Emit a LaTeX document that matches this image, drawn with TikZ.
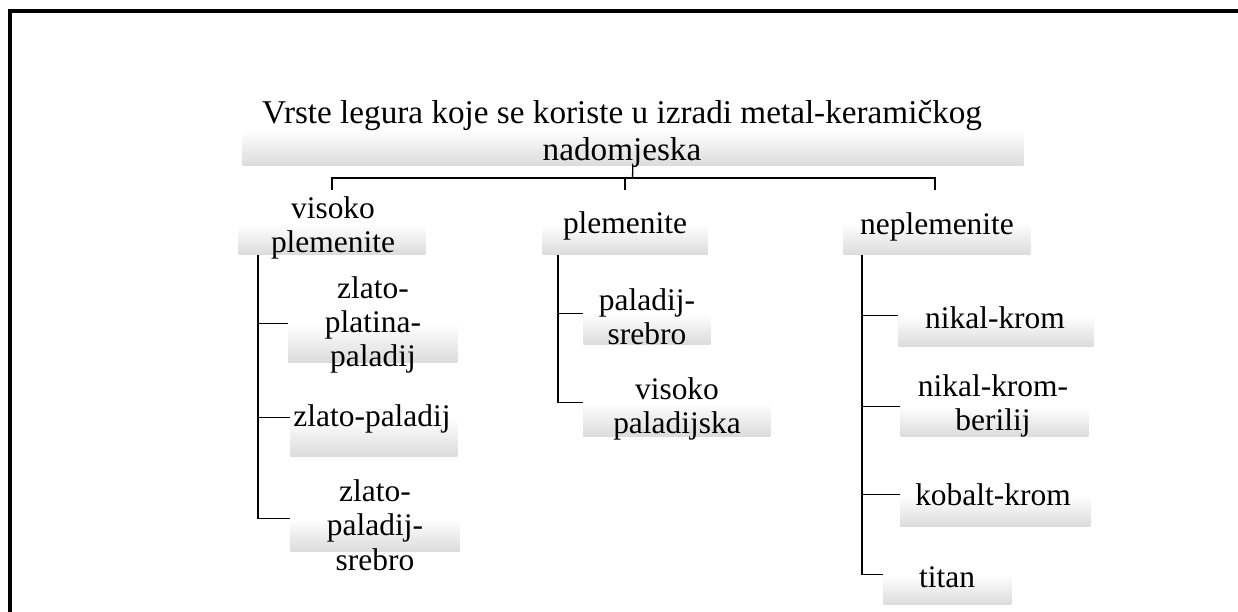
\documentclass[tikz,border=0pt]{standalone}
\usepackage{fontspec}
\setmainfont{Liberation Serif}

\begin{document}
\begin{tikzpicture}[x=0.02cm,y=-0.02cm]

\tikzset{shaded box/.style args={#1 by #2}{
    top color=white, bottom color=black!14,
    anchor=south west,
    minimum width=#1*0.02cm,
    minimum height=#2*0.02cm,
    inner sep=0pt
  },
  label text/.style={
    align=center,
    inner sep=0pt,
    font=\fontsize{17.9}{19.5}\selectfont
  },
  branch/.style={line width=0.75pt}
}

\useasboundingbox (0,0) rectangle (1238,612);
\draw[line width=2.2pt] (10,612) -- (10,11) -- (1238,11);

\node[shaded box=781 by 36] (title) at (242,166) {};
\node[label text, font=\fontsize{18.9}{21}\selectfont] (title-t) at (622,134)
  {Vrste legura koje se koriste u izradi metal-keramičkog\\nadomjeska};

\node[shaded box=187 by 30] (vp) at (238,255) {};
\node[label text] (vp-t) at (333,228) {visoko\\plemenite};
\node[shaded box=165 by 30] (pl) at (542,255) {};
\node[label text] (pl-t) at (625,226) {plemenite};
\node[shaded box=187 by 32] (np) at (843,255) {};
\node[label text] (np-t) at (937,227) {neplemenite};

\node[shaded box=169 by 39] (zpp) at (288,363) {};
\node[label text] (zpp-t) at (373,325) {zlato-\\platina-\\paladij};
\node[shaded box=167 by 39] (zp) at (290,457) {};
\node[label text] (zp-t) at (372,419) {zlato-paladij};
\node[shaded box=169 by 33] (zps) at (290,552) {};
\node[label text] (zps-t) at (375,525) {zlato-\\paladij-\\srebro};

\node[shaded box=127 by 31] (ps) at (583,345) {};
\node[label text] (ps-t) at (647,317) {paladij-\\srebro};
\node[shaded box=187 by 34] (vpd) at (583,437) {};
\node[label text] (vpd-t) at (677,409) {visoko\\paladijska};

\node[shaded box=195 by 31] (nk) at (898,347) {};
\node[label text] (nk-t) at (995,318) {nikal-krom};
\node[shaded box=188 by 30] (nkb) at (900,437) {};
\node[label text] (nkb-t) at (993,406) {nikal-krom-\\berilij};
\node[shaded box=190 by 32] (kk) at (900,527) {};
\node[label text] (kk-t) at (993,495) {kobalt-krom};
\node[shaded box=128 by 30] (ti) at (883,605) {};
\node[label text] (ti-t) at (947,577) {titan};

\coordinate (bar) at (632.5,178);
\coordinate (d1) at (332,190);
\coordinate (d2) at (625,190);
\coordinate (d3) at (935,190);
\draw[branch] (title.south) -- (bar);
\draw[branch] (d1) |- (bar) -| (d3);
\draw[branch] (d2) -- (d2 |- bar);

\coordinate (vp-l) at (258,255);
\coordinate (pl-l) at (558,255);
\coordinate (np-l) at (862,255);
\foreach \n in {zpp,zp,zps}
  \draw[branch] (vp-l) |- (\n.north west);
\foreach \n in {ps,vpd}
  \draw[branch] (pl-l) |- (\n.north west);
\foreach \n in {nk,nkb,kk,ti}
  \draw[branch] (np-l) |- (\n.north west);

\end{tikzpicture}
\end{document}
